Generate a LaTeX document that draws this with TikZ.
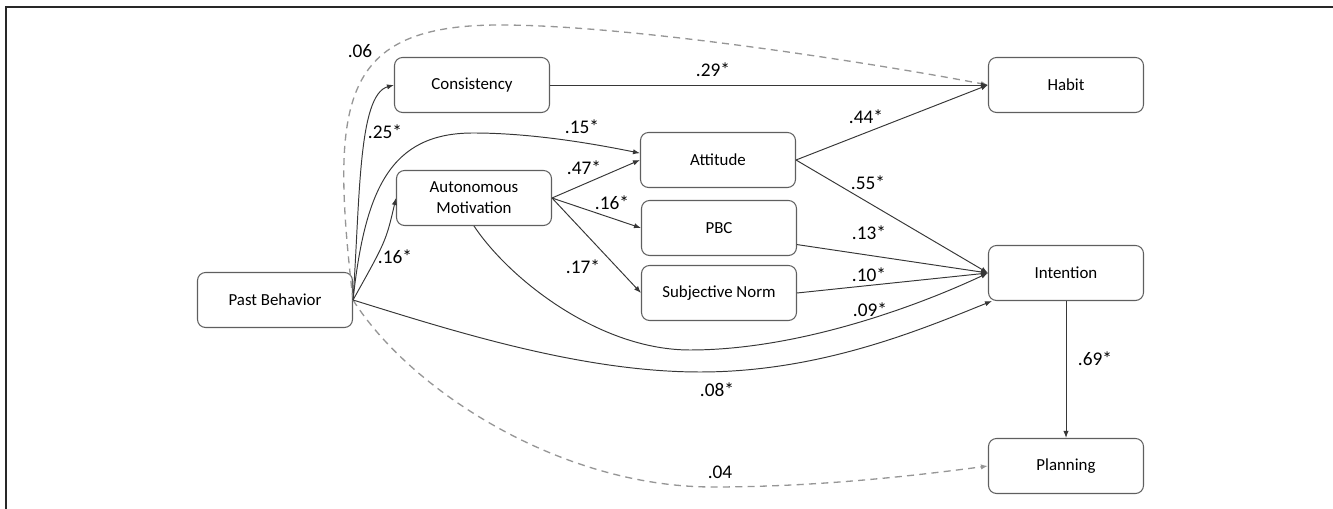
\documentclass[tikz,border=0pt]{standalone}
\usepackage{fontspec}
\setmainfont{Carlito}
\usepackage{tikz}
\usetikzlibrary{arrows.meta, calc}
\definecolor{Edge}{RGB}{55,55,55}
\definecolor{Border}{RGB}{95,95,95}
\definecolor{Weak}{RGB}{150,150,150}
\definecolor{Frame}{RGB}{40,40,40}

\begin{document}
\begin{tikzpicture}[x=0.02cm, y=-0.02cm,
    box/.style={draw=Border, line width=0.6pt, rounded corners=0.16cm, minimum width=3.1cm, minimum height=1.1cm, inner sep=1pt, align=center, font=\fontsize{9.6}{12}\selectfont},
    link/.style={draw=Edge, line width=0.55pt, -{Latex[length=4pt,width=3pt]}},
    weaklink/.style={draw=Weak, line width=0.75pt, dash pattern=on 4pt off 3pt, -{Latex[length=4pt,width=3pt]}},
    lbl/.style={inner sep=0pt, font=\fontsize{11}{13}\selectfont}]
            \useasboundingbox (0,0) rectangle (1333,509);
            \draw[Frame, line width=1.1pt] (6,509) |- (1333,7);

            \node[box] (past) at (275,300) {Past Behavior};
            \node[box] (cons) at (472,85) {Consistency};
            \node[box] (am) at (474,198) {Autonomous\\Motivation};
            \node[box] (att) at (718,160) {Attitude};
            \node[box] (pbc) at (719,228) {PBC};
            \node[box] (sn) at (719,293) {Subjective Norm};
            \node[box] (habit) at (1066,85) {Habit};
            \node[box] (int) at (1066,273) {Intention};
            \node[box] (plan) at (1066,466) {Planning};

            \draw[weaklink] (past.east) .. controls (330,100) and (340,25) .. (500,25) .. controls (640,25) and (900,68) .. (habit.west);
            \draw[weaklink] (past.east) .. controls (410,390) and (560,487) .. (713,487) .. controls (820,487) and (920,475) .. (plan.west);

            \draw[link] (past.east) .. controls (360,200) and (358,95) .. (cons.west);
            \draw[link] (past.east) .. controls (365,190) and (390,133) .. (473,133) .. controls (530,133) and (590,143) .. (att.175);
            \draw[link] (past.east) .. controls (386,241) .. (am.west);
            \draw[link] (past.east) .. controls (450,330) and (580,372) .. (700,372) .. controls (820,372) and (920,330) .. ($(int.south west)+(4,0)$);
            \draw[link] (am.south) .. controls (510,280) and (600,350) .. (690,350) .. controls (800,350) and (920,305) .. (int.west);

            \draw[link] (cons.east) -- (habit.west);
            \draw[link] (am.east) -- (att.west);
            \draw[link] (am.east) -- (pbc.west);
            \draw[link] (am.east) -- (sn.west);
            \draw[link] (att.east) -- (habit.west);
            \draw[link] (att.east) -- (int.west);
            \draw[link] (pbc.-12) -- (int.west);
            \draw[link] (sn.east) -- (int.west);
            \draw[link] (int.south) -- (plan.north);

            \node[lbl] (w06) at (360,51) {.06};
            \node[lbl] (w25) at (385,132) {.25*};
            \node[lbl] (w15) at (582,127) {.15*};
            \node[lbl] (w16a) at (395,257) {.16*};
            \node[lbl] (w47) at (584,168) {.47*};
            \node[lbl] (w16b) at (612,203) {.16*};
            \node[lbl] (w17) at (583,267) {.17*};
            \node[lbl] (w29) at (713,70) {.29*};
            \node[lbl] (w44) at (866,117) {.44*};
            \node[lbl] (w55) at (868,183) {.55*};
            \node[lbl] (w13) at (869,233) {.13*};
            \node[lbl] (w10) at (869,275) {.10*};
            \node[lbl] (w09) at (870,310) {.09*};
            \node[lbl] (w08) at (717,390) {.08*};
            \node[lbl] (w04) at (720,472) {.04};
            \node[lbl] (w69) at (1095,359) {.69*};
        \end{tikzpicture}
\end{document}
